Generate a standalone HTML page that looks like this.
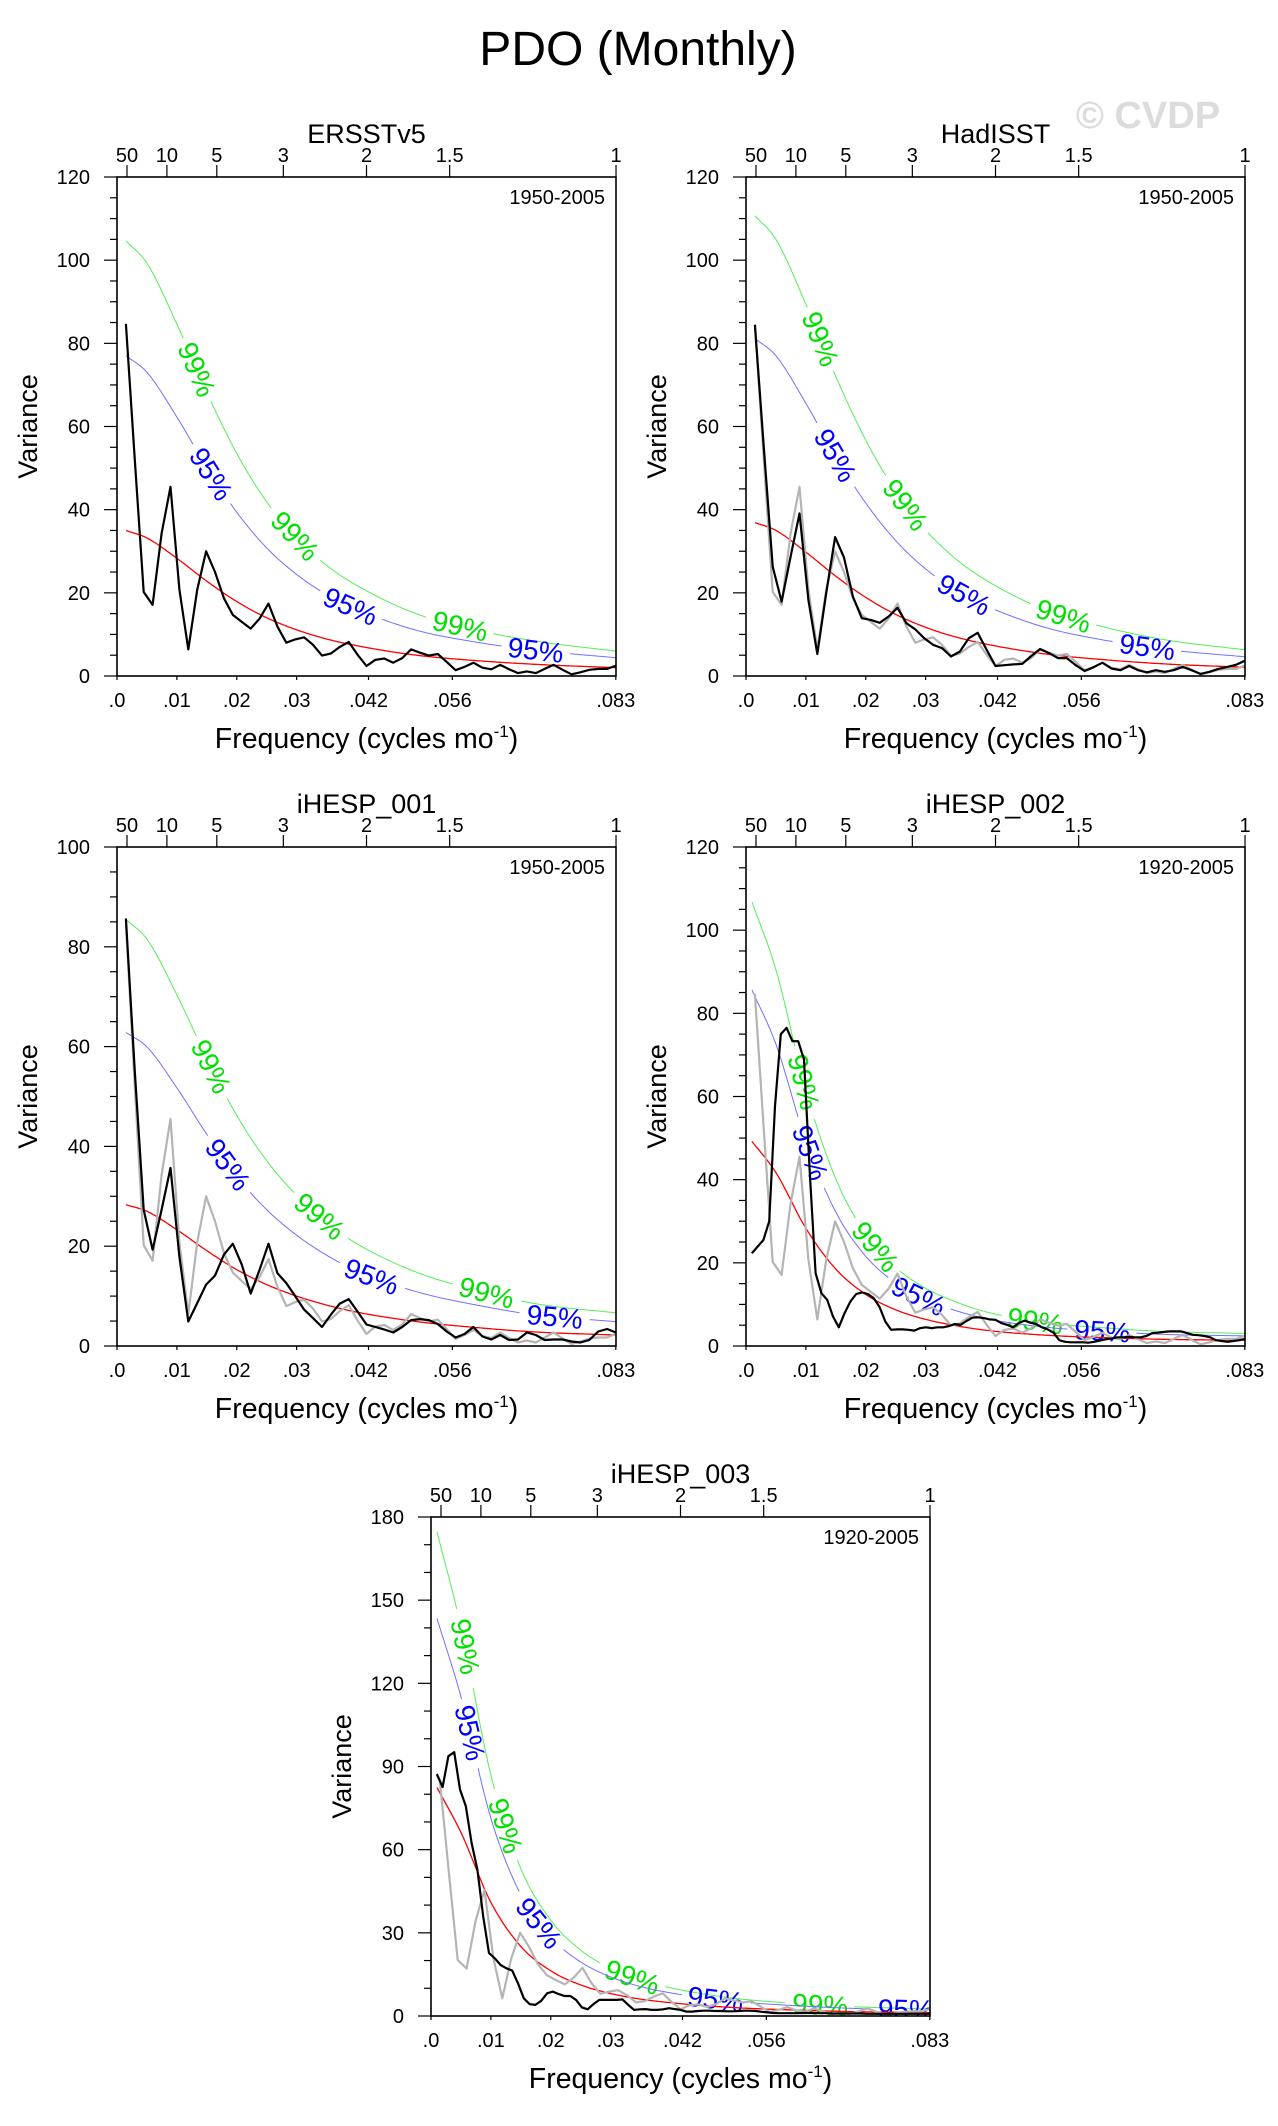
<!DOCTYPE html>
<html><head><meta charset="utf-8"><title>PDO (Monthly)</title>
<style>
html,body{margin:0;padding:0;background:#fff;}
svg{display:block;font-family:"Liberation Sans",Arial,sans-serif;}
</style></head>
<body>
<svg id="fig" width="1278" height="2126" viewBox="0 0 1278 2126" xmlns="http://www.w3.org/2000/svg">
<rect width="1278" height="2126" fill="#fff"/>
<text x="638" y="65" font-size="48" text-anchor="middle">PDO (Monthly)</text>
<text x="1148" y="128" font-size="38" font-weight="bold" fill="#dcdcdc" text-anchor="middle">© CVDP</text>
</svg>
<script>
// ---- data ----
const freqTickValues = [0, 0.01, 0.02, 0.03, 0.042, 0.056, 0.0833];
const freqTickLabels = ['.0', '.01', '.02', '.03', '.042', '.056', '.083'];
const periodTickYears = [50, 10, 5, 3, 2, 1.5, 1];
const periodTickLabels = ['50', '10', '5', '3', '2', '1.5', '1'];

const redFreqA = [0.0015, 0.005, 0.01, 0.015, 0.02, 0.025, 0.03, 0.035, 0.04, 0.05, 0.06, 0.07, 0.0833];
const redFreqB = [0.001, 0.005, 0.01, 0.015, 0.02, 0.025, 0.03, 0.035, 0.04, 0.05, 0.06, 0.07, 0.0833];

const ersstSpec = [84.7,52,20.2,17.1,34.3,45.5,20.8,6.4,20.7,30,25,18.7,14.7,13,11.4,13.8,17.4,11.9,8,8.8,9.3,7.5,4.9,5.4,7,8.2,5.1,2.4,3.9,4.2,3.2,4.3,6.4,5.6,4.9,5.3,3.4,1.4,2.2,3.2,2,1.6,2.7,1.6,0.7,1.1,0.7,1.7,2.7,1.5,0.4,0.9,1.5,1.7,1.7,2.5];
const hadisstSpec = [84.4,55,26.3,17.9,28.7,39.1,18.3,5.3,19.9,33.4,28.5,19.1,13.9,13.5,12.8,14.3,16.4,12.7,11.2,9.1,7.5,6.7,4.7,5.9,9.1,10.4,6.3,2.4,2.6,2.8,2.9,4.8,6.5,5.5,4.3,4.3,2.6,1.2,2.1,3.2,1.8,1.4,2.4,1.4,0.9,1.4,1.0,1.4,2.2,1.4,0.5,1.0,1.7,2.2,2.7,3.7];
const ihesp001Spec = [85.7,55,27.3,19.3,27.3,35.7,17.9,4.9,8.6,12.3,14.1,18.3,20.5,16.3,10.5,15.3,20.5,14.6,12.6,10.0,7.3,5.6,3.8,6.3,8.5,9.4,6.9,4.3,3.8,3.3,2.7,3.8,5.2,5.4,5.2,4.4,2.9,1.7,2.4,3.8,1.9,1.3,2.2,1.2,1.3,2.7,2.2,1.2,1.3,1.3,0.9,0.7,1.2,2.9,3.4,2.7];
const ihesp002Spec = [22.3,23.9,25.5,30,57.7,75,76.5,73.3,73.3,68.9,41.6,17.5,12.7,11.1,7.1,4.5,7.9,10.7,12.5,12.9,12.5,11.5,9.4,5.9,3.9,4.0,4.0,3.9,3.7,4.3,4.5,4.3,4.5,4.5,4.8,5.3,5.1,6.0,6.8,6.9,6.7,6.4,6.3,5.5,5.1,4.5,5.5,6.1,5.6,5.3,4.5,4.0,3.2,1.4,1.0,0.9,0.9,0.9,0.8,1.0,1.3,1.6,1.8,2.1,2.1,2.2,2.1,2.1,2.4,3.1,3.2,3.4,3.5,3.5,3.5,3.1,2.7,2.6,2.4,2.1,1.4,1.2,1.0,1.2,1.4,1.7];
const ihesp003Spec = [87.3,82.6,93.7,95.2,81.7,75.7,62.4,52.8,35.9,22.7,20.8,18.4,17.2,16.4,11.8,6.4,4.3,4.0,5.5,8.2,8.8,7.9,7.2,7.2,5.8,3.1,2.4,4.3,5.8,5.8,5.8,5.8,6.0,4.0,2.2,2.4,2.5,2.2,2.2,2.4,2.8,2.5,2.2,1.6,1.6,1.8,1.9,1.9,1.8,1.8,1.7,1.7,1.8,1.9,1.9,1.8,1.5,1.3,1.1,1.0,1.0,1.0,1.0,1.1,1.1,1.1,1.0,1.0,0.9,0.9,0.9,0.9,0.9,0.9,0.8,0.8,0.8,0.8,0.8,0.8,0.8,0.8,0.8,0.8,0.8,0.8];

const ersstRed = [35,33.2,28.3,22.8,17.9,14.0,11.1,8.9,7.3,5.0,3.7,2.8,2.0];
const hadisstRed = [36.9,35,29.8,24,18.9,14.8,11.7,9.4,7.7,5.3,3.9,2.9,2.1];
const ihesp001Red = [28.3,27.0,23.3,19.1,15.3,12.3,10.0,8.2,6.8,4.9,3.7,2.8,2.2];
const ihesp002Red = [49.2,41.7,28.3,18.5,12.4,8.7,6.4,4.9,3.8,2.6,2.0,1.6,1.4];
const ihesp003Red = [82.4,66.2,41,25.1,16.3,11.2,8.1,6.1,4.8,3.1,2.2,1.6,1.2];

const conf95Factor = [2.2, 2.2, 2.22, 1.74, 1.74];
const conf99Factor = [2.99, 3.0, 3.02, 2.17, 2.12];

const label99FreqP1 = [0.0133, 0.0297, 0.0573];
const label95FreqP1 = [0.0157, 0.039, 0.0699];
const label99FreqP2 = [0.0124, 0.0266, 0.053];
const label95FreqP2 = [0.0149, 0.0364, 0.067];
const label99FreqP3 = [0.0157, 0.0338, 0.0617];
const label95FreqP3 = [0.0185, 0.0425, 0.0731];
const label99FreqP4 = [0.0096, 0.0216, 0.0483];
const label95FreqP4 = [0.0107, 0.0288, 0.0595];
const label99FreqP5 = [0.0057, 0.0124, 0.0336, 0.065];
const label95FreqP5 = [0.0065, 0.018, 0.0475, 0.0793];

// ---- drawing ----
const NS = 'http://www.w3.org/2000/svg';
const svg = document.getElementById('fig');
const FMAX = 0.08333;
function el(tag, attrs, parent, text) {
  const e = document.createElementNS(NS, tag);
  for (const k in attrs) e.setAttribute(k, attrs[k]);
  if (text !== undefined) e.textContent = text;
  parent.appendChild(e);
  return e;
}
function monotone(xs, ys) {
  const n = xs.length, d = [], m = [];
  for (let i = 0; i < n - 1; i++) d.push((ys[i+1]-ys[i])/(xs[i+1]-xs[i]));
  m.push(d[0]);
  for (let i = 1; i < n - 1; i++) m.push(d[i-1]*d[i] <= 0 ? 0 : (d[i-1]+d[i])/2);
  m.push(d[n-2]);
  for (let i = 0; i < n - 1; i++) {
    if (d[i] === 0) { m[i] = 0; m[i+1] = 0; continue; }
    const a = m[i]/d[i], b = m[i+1]/d[i], s = a*a + b*b;
    if (s > 9) { const t = 3/Math.sqrt(s); m[i] = t*a*d[i]; m[i+1] = t*b*d[i]; }
  }
  return function (x) {
    let i = 0;
    while (i < n - 2 && x > xs[i+1]) i++;
    const h = xs[i+1]-xs[i], t = (x-xs[i])/h;
    const h00 = 2*t*t*t-3*t*t+1, h10 = t*t*t-2*t*t+t, h01 = -2*t*t*t+3*t*t, h11 = t*t*t-t*t;
    return h00*ys[i] + h10*h*m[i] + h01*ys[i+1] + h11*h*m[i+1];
  };
}

function drawPlot(p) {
  const g = el('g', {}, svg);
  
  
  const L = p.left, T = p.top, W = 499, H = 499;
  const xs = f => L + f / FMAX * W;
  const ys = v => T + H - v / p.ymax * H;
  const cid = 'clip-' + p.name;
  const cp = el('clipPath', {id: cid}, g);
  el('rect', {x: L, y: T, width: W, height: H}, cp);
  for (let v = 0; v <= p.ymax + 1e-9; v += p.yminor) {
    const major = Math.abs(v % p.ymajor) < 1e-9;
    const t = el('line', {x1: L - (major ? 13 : 7), x2: L, y1: ys(v), y2: ys(v), stroke: '#000', 'stroke-width': 1.2}, g);
    
    
    if (major) {
      const tl = el('text', {x: L - 27, y: ys(v) + 7, 'font-size': 20, 'text-anchor': 'end'}, g, String(v));
      
      
    }
  }
  freqTickValues.forEach((f, i) => {
    const t = el('line', {x1: xs(f), x2: xs(f), y1: T + H, y2: T + H + 4, stroke: '#000', 'stroke-width': 1.2}, g);
    
    
    const tl = el('text', {x: xs(f), y: T + H + 31, 'font-size': 20, 'text-anchor': 'middle'}, g, freqTickLabels[i]);
    
    
  });
  periodTickYears.forEach((yr, i) => {
    const f = 1 / (12 * yr);
    const t = el('line', {x1: xs(f), x2: xs(f), y1: T, y2: T - 12, stroke: '#000', 'stroke-width': 1.2}, g);
    
    
    const tl = el('text', {x: xs(f), y: T - 15, 'font-size': 20, 'text-anchor': 'middle'}, g, periodTickLabels[i]);
    
    
  });
  const tt = el('text', {x: L + W/2, y: T - 34, 'font-size': 27, 'text-anchor': 'middle'}, g, p.title);
  
  
  const yr = el('text', {x: L + W - 11, y: T + 27, 'font-size': 20, 'text-anchor': 'end'}, g, p.years);
  
  
  const xt = el('text', {x: L + W/2, y: T + H + 72, 'font-size': 28.5, 'text-anchor': 'middle'}, g);
  
  
  el('tspan', {}, xt, 'Frequency (cycles mo');
  el('tspan', {'font-size': 17, dy: -11}, xt, '-1');
  el('tspan', {dy: 11}, xt, ')');
  const yt = el('text', {x: 0, y: 0, 'font-size': 27, 'text-anchor': 'middle', transform: `translate(${L - 80},${T + H/2}) rotate(-90)`}, g, 'Variance');
  
  

  const plotG = el('g', {'clip-path': `url(#${cid})`}, g);
  const rf = monotone(p.redF, p.red);
  const f0 = p.redF[0], f1 = p.redF[p.redF.length - 1];
  function curvePts(factor) {
    const pts = [];
    for (let i = 0; i <= 300; i++) {
      const f = f0 + (f1 - f0) * i / 300;
      pts.push([xs(f), ys(rf(f) * factor)]);
    }
    return pts;
  }
  function drawCurve(factor, color, labelFreqs, labelText, labelColor, nm) {
    const pts = curvePts(factor);
    const centers = labelFreqs.map(f => {
      const a = [xs(f - 0.0004), ys(rf(f - 0.0004) * factor)];
      const b = [xs(f + 0.0004), ys(rf(f + 0.0004) * factor)];
      return {x: xs(f), y: ys(rf(f) * factor), ang: Math.atan2(b[1] - a[1], b[0] - a[0]) * 180 / Math.PI};
    });
    let segs = [], cur = [];
    pts.forEach(pt => {
      const hidden = centers.some(c => Math.hypot(pt[0] - c.x, pt[1] - c.y) < 34);
      if (hidden) { if (cur.length > 1) segs.push(cur); cur = []; }
      else cur.push(pt);
    });
    if (cur.length > 1) segs.push(cur);
    segs.forEach(s => {
      const pl = el('polyline', {points: s.map(q => q[0].toFixed(1) + ',' + q[1].toFixed(1)).join(' '), fill: 'none', stroke: color, 'stroke-width': 1}, plotG);
      
      
    });
    centers.forEach(c => {
      const t = el('text', {x: 0, y: 0, 'font-size': 28, fill: labelColor, 'text-anchor': 'middle', 'dominant-baseline': 'central', transform: `translate(${c.x.toFixed(1)},${c.y.toFixed(1)}) rotate(${c.ang.toFixed(1)})`}, plotG, labelText);
      
      
    });
  }
  drawCurve(p.f99, '#55ee55', p.l99, '99%', '#00e000', 'confidence-99-curve');
  drawCurve(p.f95, '#7070ff', p.l95, '95%', '#0000ff', 'confidence-95-curve');
  const redPts = curvePts(1);
  const rl = el('polyline', {points: redPts.map(q => q[0].toFixed(1) + ',' + q[1].toFixed(1)).join(' '), fill: 'none', stroke: '#ff0000', 'stroke-width': 1.3}, plotG);
  
  
  if (p.gray) {
    const gp = ersstSpec.map((v, i) => xs((i + 1) / 672).toFixed(1) + ',' + ys(v).toFixed(1)).join(' ');
    const gl = el('polyline', {points: gp, fill: 'none', stroke: '#b4b4b4', 'stroke-width': 2.2, 'stroke-linejoin': 'round'}, plotG);
    
    
  }
  const bp = p.spec.map((v, i) => xs((i + 1) / p.N).toFixed(1) + ',' + ys(v).toFixed(1)).join(' ');
  const bl = el('polyline', {points: bp, fill: 'none', stroke: '#000', 'stroke-width': 2.2, 'stroke-linejoin': 'round'}, plotG);
  
  
  const fr = el('rect', {x: L, y: T, width: W, height: H, fill: 'none', stroke: '#000', 'stroke-width': 1.6}, g);
  
  
}

drawPlot({name: 'ersstv5', title: 'ERSSTv5', years: '1950-2005', left: 117, top: 177, ymax: 120, ymajor: 20, yminor: 5, spec: ersstSpec, N: 672, gray: false, red: ersstRed, redF: redFreqA, f95: conf95Factor[0], f99: conf99Factor[0], l95: label95FreqP1, l99: label99FreqP1});
drawPlot({name: 'hadisst', title: 'HadISST', years: '1950-2005', left: 746, top: 177, ymax: 120, ymajor: 20, yminor: 5, spec: hadisstSpec, N: 672, gray: true, red: hadisstRed, redF: redFreqA, f95: conf95Factor[1], f99: conf99Factor[1], l95: label95FreqP2, l99: label99FreqP2});
drawPlot({name: 'ihesp-001', title: 'iHESP_001', years: '1950-2005', left: 117, top: 847, ymax: 100, ymajor: 20, yminor: 5, spec: ihesp001Spec, N: 672, gray: true, red: ihesp001Red, redF: redFreqA, f95: conf95Factor[2], f99: conf99Factor[2], l95: label95FreqP3, l99: label99FreqP3});
drawPlot({name: 'ihesp-002', title: 'iHESP_002', years: '1920-2005', left: 746, top: 847, ymax: 120, ymajor: 20, yminor: 5, spec: ihesp002Spec, N: 1032, gray: true, red: ihesp002Red, redF: redFreqB, f95: conf95Factor[3], f99: conf99Factor[3], l95: label95FreqP4, l99: label99FreqP4});
drawPlot({name: 'ihesp-003', title: 'iHESP_003', years: '1920-2005', left: 431, top: 1517, ymax: 180, ymajor: 30, yminor: 10, spec: ihesp003Spec, N: 1032, gray: true, red: ihesp003Red, redF: redFreqB, f95: conf95Factor[4], f99: conf99Factor[4], l95: label95FreqP5, l99: label99FreqP5});
</script>
</body></html>
